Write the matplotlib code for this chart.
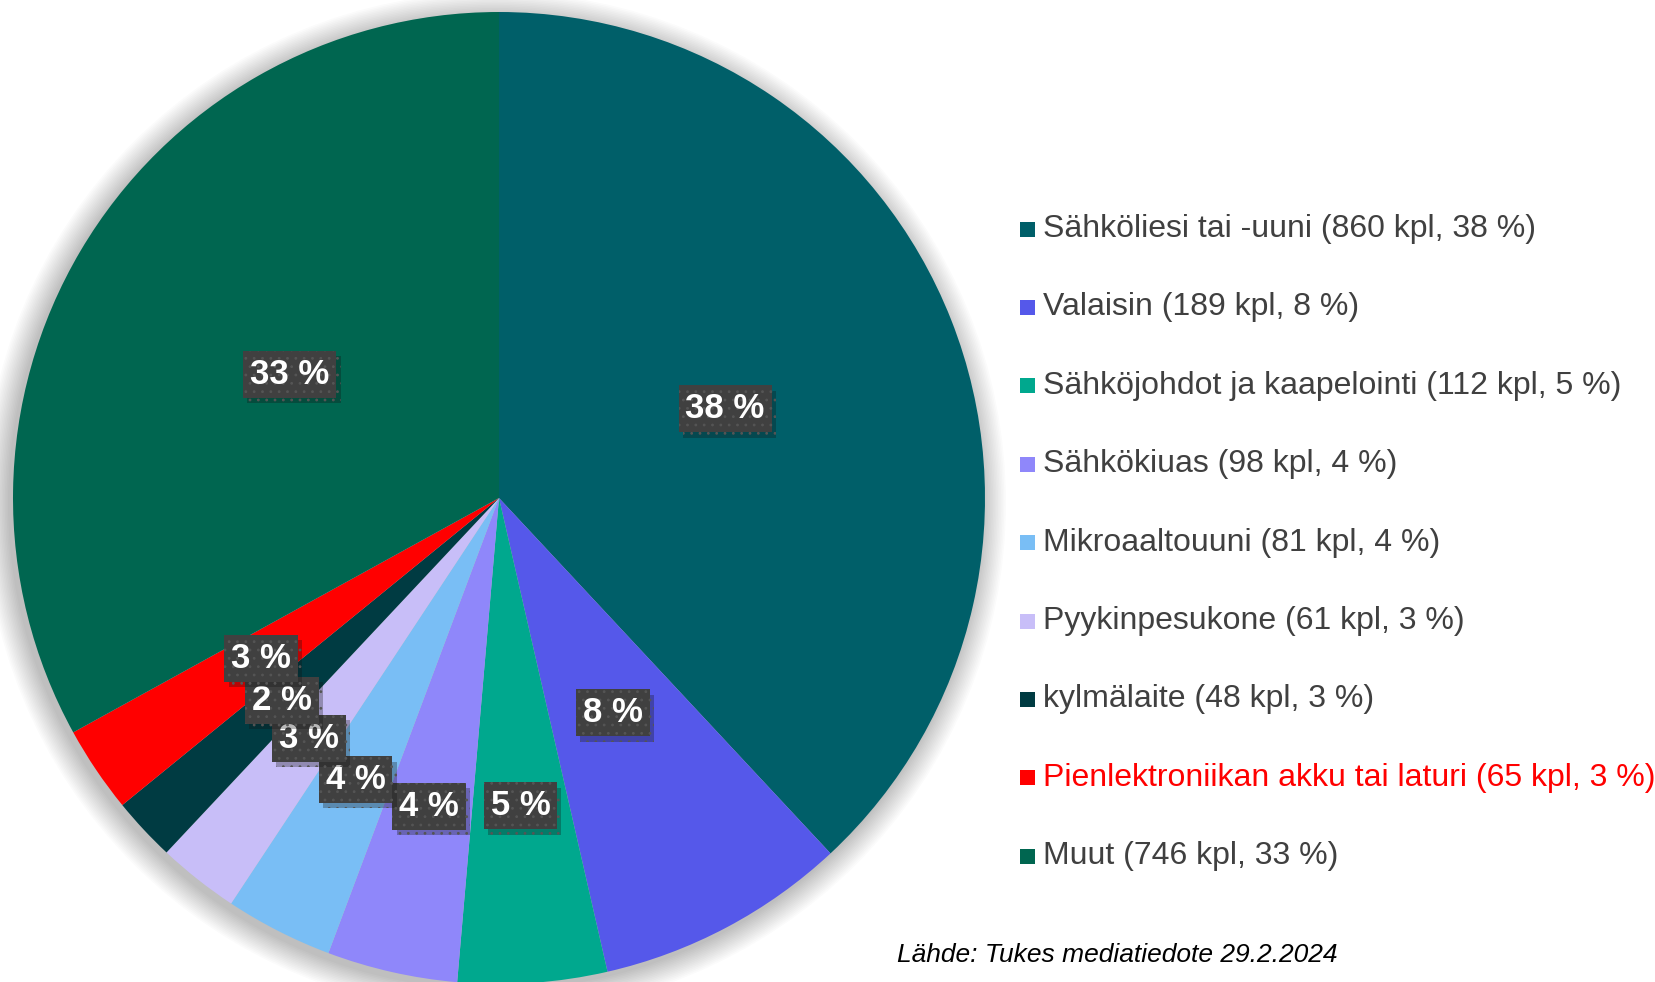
import matplotlib
matplotlib.use("Agg")
import matplotlib.pyplot as plt
import matplotlib.patheffects as pe
from matplotlib.patches import Circle, Rectangle
import numpy as np

plt.rcParams['font.family'] = ['Liberation Sans', 'DejaVu Sans']
plt.rcParams['hatch.linewidth'] = 0.8

# Data (Tukes 2024, sähkölaitteiden aiheuttamat tulipalot)
categories = [
    "Sähköliesi tai -uuni",
    "Valaisin",
    "Sähköjohdot ja kaapelointi",
    "Sähkökiuas",
    "Mikroaaltouuni",
    "Pyykinpesukone",
    "kylmälaite",
    "Pienlektroniikan akku tai laturi",
    "Muut",
]
counts = [860, 189, 112, 98, 81, 61, 48, 65, 746]
legend_pct = [38, 8, 5, 4, 4, 3, 3, 3, 33]
colors = ["#005F69", "#5558EA", "#00A88E", "#8F87FA", "#79BEF5",
          "#C8BEF8", "#003B42", "#FF0000", "#006650"]

# layout (pixels)
W, H = 1655, 982
CX, CY, R = 499, 982 - 498, 486
label_r = [0.5, 0.5, 0.635, 0.65, 0.65, 0.63, 0.61, 0.59, 0.5]

fig = plt.figure(figsize=(W / 100, H / 100), dpi=100)
ax = fig.add_axes([0, 0, 1, 1])

# soft shadow behind the pie
for k in range(16):
    ax.add_patch(Circle((CX - 4, CY - 5), R + 1 + k * 1.6, color='black',
                        alpha=0.016, lw=0, zorder=0))

wedges, _ = ax.pie(counts, colors=colors, startangle=90, counterclock=False,
                   center=(CX, CY), radius=R, frame=True,
                   wedgeprops=dict(linewidth=0))
ax.set_xlim(0, W)
ax.set_ylim(0, H)
ax.set_aspect('equal')
ax.axis('off')

total = sum(counts)
for w, c, rf in zip(wedges, counts, label_r):
    ang = np.deg2rad((w.theta1 + w.theta2) / 2)
    x = CX + rf * R * np.cos(ang)
    y = CY + rf * R * np.sin(ang)
    t = ax.text(x, y, f"{round(100 * c / total):d} %", ha='center', va='center',
                color='white', fontsize=25, fontweight='bold', zorder=5,
                bbox=dict(boxstyle='square,pad=0.2', facecolor='#404040',
                          edgecolor='#555555', linewidth=0))
    bp = t.get_bbox_patch()
    bp.set_hatch('..')
    bp.set_path_effects([pe.SimplePatchShadow(offset=(3, -4), alpha=0.3), pe.Normal()])

# legend
y0, step = 229, 78.4
for i, (name, c, p, col) in enumerate(zip(categories, counts, legend_pct, colors)):
    y = H - (y0 + i * step)
    ax.add_patch(Rectangle((1020, y - 7.5), 15, 15, facecolor=col, lw=0))
    tcol = '#FF0000' if col == '#FF0000' else '#404040'
    ax.text(1043, y, f"{name} ({c} kpl, {p} %)", ha='left', va='center',
            fontsize=23, color=tcol)

ax.text(897, H - 955, "Lähde: Tukes mediatiedote 29.2.2024", ha='left',
        va='center', fontsize=19, style='italic', color='black')

fig.savefig("out.png", dpi=100)
